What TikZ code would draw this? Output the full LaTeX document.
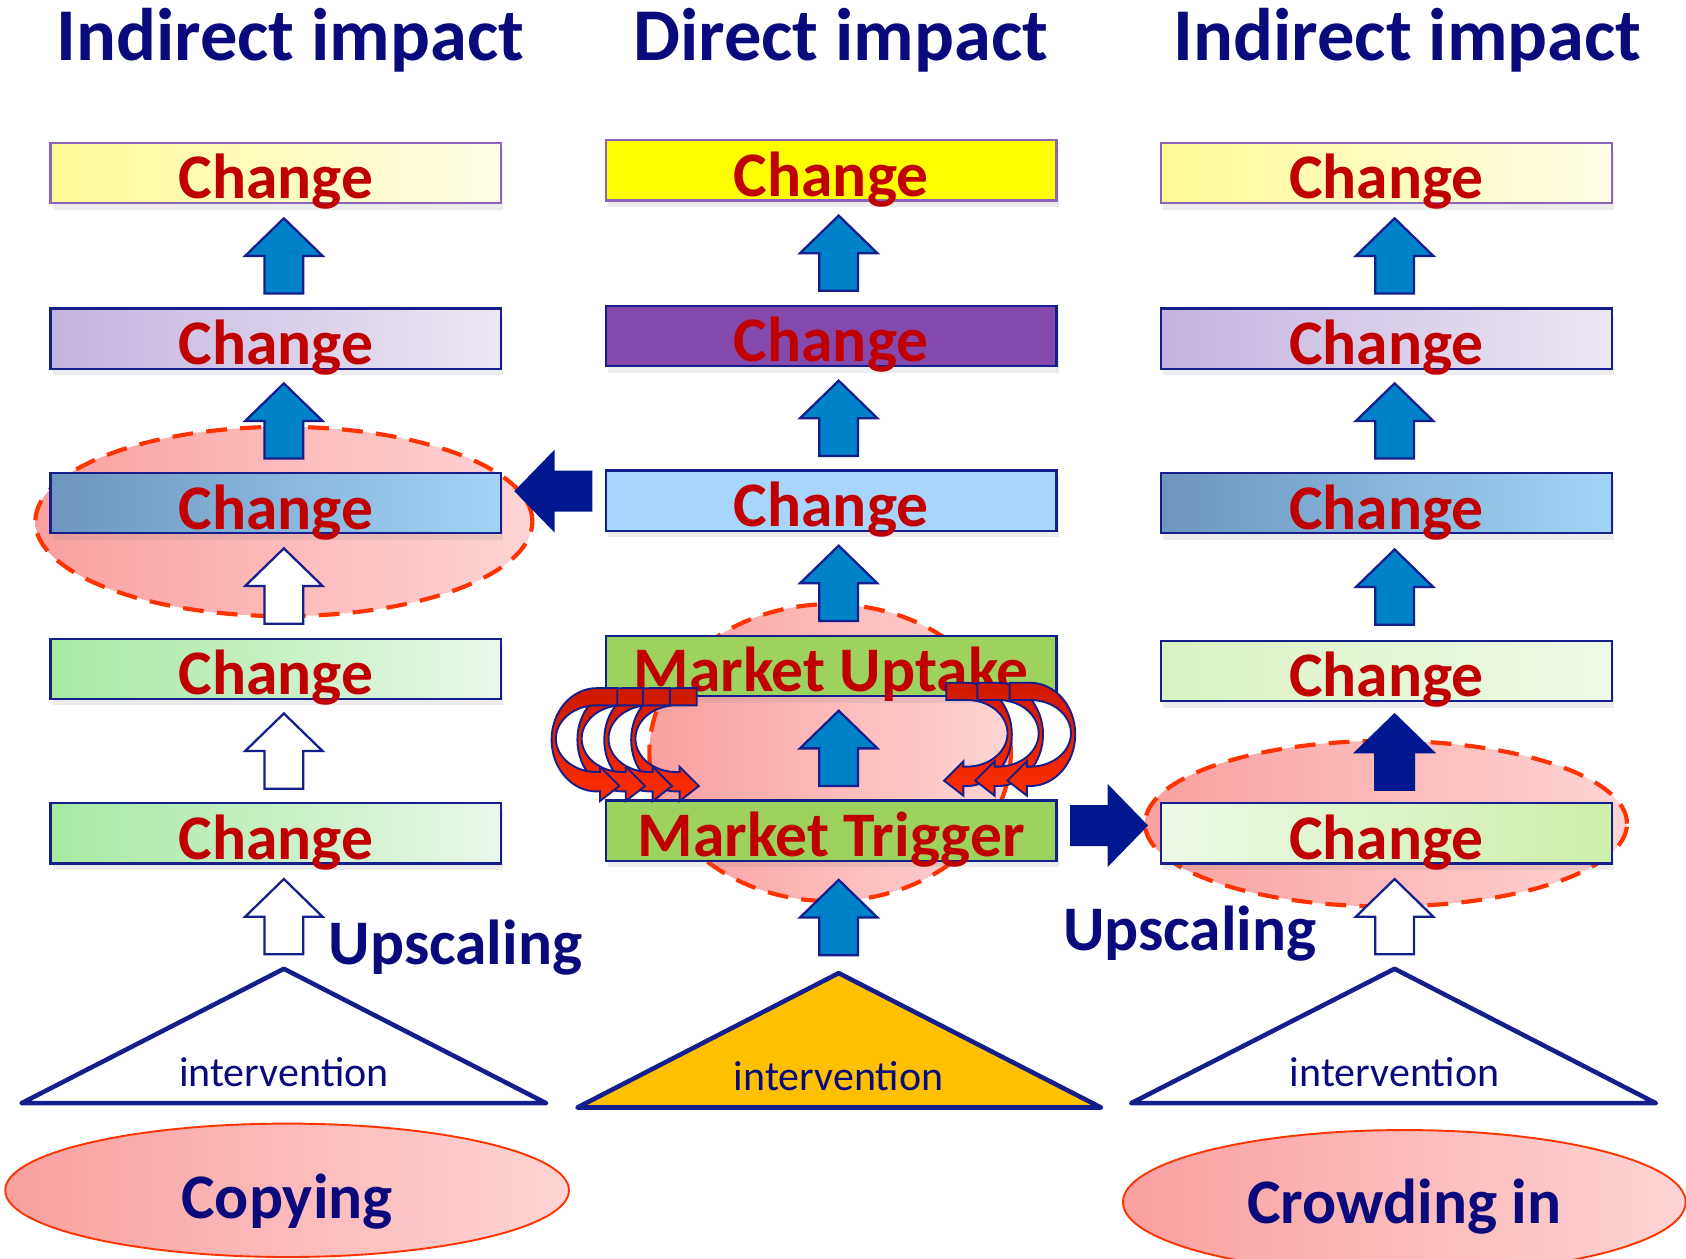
\documentclass[tikz,border=0pt]{standalone}
\usepackage{fontspec}
\setmainfont{Carlito}
\usetikzlibrary{calc,shapes.geometric,shadows}

\definecolor{titleblue}{RGB}{10,10,125}
\definecolor{boxline}{RGB}{20,30,140}
\definecolor{boxpurple}{RGB}{140,100,185}
\definecolor{changered}{RGB}{192,0,0}
\definecolor{arrblue}{RGB}{0,130,202}
\definecolor{arrdark}{RGB}{0,24,143}
\definecolor{halored}{RGB}{255,51,0}
\definecolor{pinkA}{RGB}{249,160,160}
\definecolor{pinkB}{RGB}{255,212,212}
\definecolor{loopA}{RGB}{205,25,0}
\definecolor{loopB}{RGB}{255,45,0}
\definecolor{gold}{RGB}{255,192,0}
\definecolor{yelA}{RGB}{255,250,150}
\definecolor{yelB}{RGB}{255,253,232}
\definecolor{lavA}{RGB}{196,180,222}
\definecolor{lavB}{RGB}{236,231,244}
\definecolor{bluA}{RGB}{108,150,190}
\definecolor{bluB}{RGB}{163,212,248}
\definecolor{grnA}{RGB}{165,234,160}
\definecolor{grnB}{RGB}{234,247,234}
\definecolor{lgrA}{RGB}{218,242,196}
\definecolor{lgrB}{RGB}{238,249,230}
\definecolor{lgrC}{RGB}{236,249,230}
\definecolor{lgrD}{RGB}{205,239,168}
\definecolor{midyellow}{RGB}{255,255,0}
\definecolor{midpurple}{RGB}{133,73,173}
\definecolor{midblue}{RGB}{168,213,251}
\definecolor{mktgreen}{RGB}{158,210,94}

\tikzset{
	title/.style={text=titleblue, inner sep=0pt, font=\fontsize{19.7}{24}\selectfont\bfseries},
	box/.style={draw=boxline, line width=0.6pt, minimum width=4.19cm, minimum height=0.56cm,
		inner sep=0pt, text height=0.48cm, text depth=0pt, text=changered,
		font=\fontsize{16.8}{20}\selectfont\bfseries,
		drop shadow={shadow xshift=0.2mm, shadow yshift=-0.6mm, opacity=0.15}},
	halo/.style={ellipse, draw=halored, line width=1.1pt, dash pattern=on 5.5pt off 3.5pt,
		left color=pinkA, right color=pinkB, inner sep=0pt},
	tag/.style={ellipse, draw=halored, line width=0.5pt, left color=pinkA, right color=pinkB,
		inner sep=0pt, text depth=0pt, text=titleblue, font=\fontsize{16.8}{20}\selectfont\bfseries},
	upsc/.style={text=titleblue, inner sep=0pt, font=\fontsize{16.8}{20}\selectfont\bfseries},
	small/.style={text=titleblue, inner sep=0pt, font=\fontsize{11.1}{13}\selectfont},
	tri/.style={draw=boxline, line width=1.2pt, line join=round},
	bluearr/.style={draw=boxline, fill=arrblue, line width=0.6pt},
	whitearr/.style={draw=boxline, fill=white, line width=0.6pt},
	darkarr/.style={draw=arrdark, fill=arrdark, line width=0.6pt},
	looparr/.style={draw=boxline, top color=loopA, bottom color=loopB, line width=0.5pt},
	blockarrow/.pic={
		\draw[pic actions] (-18,-35) -- (18,-35) -- (18,0) -- (36,0) -- (0,35) -- (-36,0) -- (-18,0) -- cycle;
	},
	loopright/.pic={
		\draw[pic actions] (0,46) -- (-19,46) arc[start angle=90, end angle=270, x radius=0.42cm, y radius=0.48cm]
			-- (-16,-50) -- (-16,-59) -- (2,-45) -- (-16,-27) -- (-16,-32) -- (-19,-32)
			arc[start angle=270, end angle=90, x radius=0.38cm, y radius=0.31cm] -- (0,30) -- cycle;
	}
}

\begin{document}
\begin{tikzpicture}[x=0.01cm, y=0.01cm]
	\useasboundingbox (0,0) rectangle (1568,-1170);
	% Column titles
	\node[title, anchor=base] (tl) at (270,-56) {Indirect impact};
	\node[title, anchor=base] (tm) at (782,-56) {Direct impact};
	\node[title, anchor=base] (tr) at (1309,-56) {Indirect impact};
	% Halos behind the boxes
	\node[halo, minimum width=4.62cm, minimum height=1.76cm] (lhalo) at (264,-485) {};
	\node[halo, minimum width=3.36cm, minimum height=2.76cm] (mhalo) at (772,-700) {};
	\node[halo, minimum width=4.48cm, minimum height=1.54cm] (rhalo) at (1289,-766) {};
	% Left column
	\node[box, draw=boxpurple, left color=yelA, right color=yelB] (l1) at (256.5,-161) {Change};
	\node[box, left color=lavA, right color=lavB] (l2) at (256.5,-315) {Change};
	\node[box, left color=bluA, right color=bluB] (l3) at (256.5,-468) {Change};
	\node[box, left color=grnA, right color=grnB] (l4) at (256.5,-622) {Change};
	\node[box, left color=grnA, right color=grnB] (l5) at (256.5,-775) {Change};
	% Middle column
	\node[box, draw=boxpurple, fill=midyellow] (m1) at (773,-158.5) {Change};
	\node[box, fill=midpurple] (m2) at (773,-312.5) {Change};
	\node[box, fill=midblue] (m3) at (773,-465.5) {Change};
	\node[box, fill=mktgreen] (m4) at (773,-619.5) {Market Uptake};
	\node[box, fill=mktgreen] (m5) at (773,-772.5) {Market Trigger};
	% Right column
	\node[box, draw=boxpurple, left color=yelA, right color=yelB] (r1) at (1289.5,-161) {Change};
	\node[box, left color=lavA, right color=lavB] (r2) at (1289.5,-315) {Change};
	\node[box, left color=bluA, right color=bluB] (r3) at (1289.5,-468) {Change};
	\node[box, left color=lgrA, right color=lgrB] (r4) at (1289.5,-624) {Change};
	\node[box, left color=lgrC, right color=lgrD] (r5) at (1289.5,-775) {Change};
	% Interventions
	\coordinate (lapex) at (264,-901);
	\coordinate (mapex) at (780,-905);
	\coordinate (rapex) at (1297,-901);
	\draw[tri, fill=white] (20,-1026) -- (lapex) -- (508,-1026) -- cycle;
	\draw[tri, fill=gold] (537,-1030) -- (mapex) -- (1024,-1030) -- cycle;
	\draw[tri, fill=white] (1052,-1026) -- (rapex) -- (1540,-1026) -- cycle;
	\node[small, anchor=base] (lint) at (264,-1010) {intervention};
	\node[small, anchor=base] (mint) at (780,-1014) {intervention};
	\node[small, anchor=base] (rint) at (1297,-1010) {intervention};
	% Up arrows, left
	\pic[bluearr] at ($(l1.south)!.5!(l2.north)+(7.5,0)$) {blockarrow};
	\pic[bluearr] at ($(l2.south)!.5!(l3.north)+(7.5,0)$) {blockarrow};
	\pic[whitearr] at ($(l3.south)!.5!(l4.north)+(7.5,0)$) {blockarrow};
	\pic[whitearr] at ($(l4.south)!.5!(l5.north)+(7.5,0)$) {blockarrow};
	\pic[whitearr] at ($(l5.south)!.5!(lapex)+(3.75,0)$) {blockarrow};
	% Up arrows, middle
	\pic[bluearr] at ($(m1.south)!.5!(m2.north)+(7,0)$) {blockarrow};
	\pic[bluearr] at ($(m2.south)!.5!(m3.north)+(7,0)$) {blockarrow};
	\pic[bluearr] at ($(m3.south)!.5!(m4.north)+(7,0)$) {blockarrow};
	\pic[bluearr] at ($(m4.south)!.5!(m5.north)+(7,0)$) {blockarrow};
	\pic[bluearr] at ($(m5.south)!.5!(mapex)+(3.5,0)$) {blockarrow};
	% Up arrows, right
	\pic[bluearr] at ($(r1.south)!.5!(r2.north)+(7.5,0)$) {blockarrow};
	\pic[bluearr] at ($(r2.south)!.5!(r3.north)+(7.5,0)$) {blockarrow};
	\pic[bluearr] at ($(r3.south)!.5!(r4.north)+(7.5,0)$) {blockarrow};
	\pic[darkarr] at ($(r4.south)!.5!(r5.north)+(7.5,0)$) {blockarrow};
	\pic[whitearr] at ($(r5.south)!.5!(rapex)+(3.75,0)$) {blockarrow};
	% Sideways arrows
	\pic[darkarr, rotate=90] at ($(l3.east)!.5!(m3.west)+(0,10)$) {blockarrow};
	\pic[darkarr, rotate=-90] at ($(m5.east)!.5!(r5.west)+(0,6)$) {blockarrow};
	% Loops between trigger and uptake
	\foreach \x in {648,623,598,574}
		\pic[looparr] at (\x,-686) {loopright};
	\foreach \x in {880,909,939}
		\pic[looparr, xscale=-1] at (\x,-681) {loopright};
	% Labels
	\node[upsc, anchor=base west] (lup) at (305,-897) {Upscaling};
	\node[upsc, anchor=base west] (rup) at (988,-884) {Upscaling};
	\node[tag, minimum width=5.24cm, minimum height=1.24cm, text height=0.52cm] (copy) at (267,-1107) {Copying};
	\node[tag, minimum width=5.23cm, minimum height=1.34cm, text height=0.40cm] (crowd) at (1306,-1118) {Crowding in};
\end{tikzpicture}
\end{document}
